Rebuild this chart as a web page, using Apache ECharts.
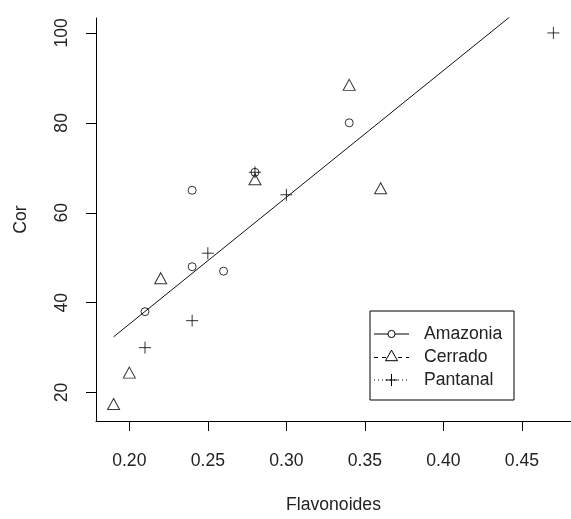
<!DOCTYPE html>
<html>
<head>
<meta charset="utf-8">
<script src="https://cdn.jsdelivr.net/npm/echarts@6/dist/echarts.min.js"></script>
<style>
  html, body { margin: 0; padding: 0; background: #fff; }
  #chart { width: 571px; height: 519px; }
</style>
</head>
<body>
<div id="chart"></div>
<script>
// values
const amazoniaX = [0.24, 0.34, 0.24, 0.26, 0.21, 0.28];
const amazoniaY = [65, 80, 48, 47, 38, 69];
const cerradoX = [0.34, 0.36, 0.22, 0.20, 0.19, 0.28];
const cerradoY = [88, 65, 45, 24, 17, 67];
const pantanalX = [0.47, 0.25, 0.24, 0.21, 0.30, 0.28];
const pantanalY = [100, 51, 36, 30, 64, 69];
// fitted line (lm) end points
const fitX = [0.19, 0.47];
const fitY = [32.4, 111.4];
const xTicks = [0.20, 0.25, 0.30, 0.35, 0.40, 0.45];
const yTicks = [20, 40, 60, 80, 100];
const groups = ["Amazonia", "Cerrado", "Pantanal"];

const FONT = "Liberation Sans";
const FS = 17.6;
const TXT = "#222";
const PLUS = "path://M0,6H12M6,0V12";

const zip = (xs, ys) => xs.map((x, i) => [x, ys[i]]);

const hollow = { color: "transparent", borderColor: "#000", borderWidth: 1 };

const chart = echarts.init(document.getElementById("chart"), null, { renderer: "canvas" });

// legend drawn by hand, R style (box, line type, symbol)
const legendRows = [334, 357.5, 380];
const legendDash = [null, [4, 4], [1, 3]];
const legendGraphic = [
  {
    type: "rect",
    shape: { x: 370, y: 311, width: 144, height: 89 },
    style: { fill: "#fff", stroke: "#000", lineWidth: 1 },
    z: 100
  }
];
groups.forEach((name, i) => {
  const y = legendRows[i];
  legendGraphic.push({
    type: "line",
    shape: { x1: 374, y1: y, x2: 409, y2: y },
    style: { stroke: "#000", lineWidth: 1, lineDash: legendDash[i] },
    z: 101
  });
  let sym;
  if (i === 0) {
    sym = { type: "circle", shape: { cx: 391.5, cy: y, r: 3.6 }, style: { fill: "#fff", stroke: "#000", lineWidth: 1 } };
  } else if (i === 1) {
    sym = { type: "polygon", shape: { points: [[385.5, y + 3.2], [397.5, y + 3.2], [391.5, y - 7.3]] }, style: { fill: "#fff", stroke: "#000", lineWidth: 1 } };
  } else {
    sym = { type: "polyline", shape: { points: [[385.5, y], [397.5, y]] }, style: { stroke: "#000", lineWidth: 1 } };
    legendGraphic.push({ type: "line", shape: { x1: 391.5, y1: y - 6, x2: 391.5, y2: y + 6 }, style: { stroke: "#000", lineWidth: 1 }, z: 102 });
  }
  sym.z = 102;
  legendGraphic.push(sym);
  legendGraphic.push({
    type: "text",
    x: 424, y: y,
    style: { text: name, fill: TXT, font: FS + "px " + FONT, verticalAlign: "middle" },
    z: 102
  });
});

const option = {
  backgroundColor: "#fff",
  animation: false,
  textStyle: { fontFamily: FONT },
  grid: { left: 96, top: 18, width: 484, height: 416 },
  xAxis: {
    type: "value",
    min: 0.1788,
    max: 0.4812,
    name: "Flavonoides",
    nameLocation: "middle",
    nameGap: 75,
    nameTextStyle: { fontSize: FS, color: TXT, fontFamily: FONT },
    splitLine: { show: false },
    axisLine: { show: true, onZero: false, lineStyle: { color: "#000", width: 1 } },
    axisTick: { show: true, inside: false, length: 10, customValues: xTicks, lineStyle: { color: "#000" } },
    axisLabel: {
      customValues: xTicks,
      margin: 31,
      fontSize: FS,
      color: TXT,
      fontFamily: FONT,
      formatter: (v) => v.toFixed(2)
    }
  },
  yAxis: {
    type: "value",
    min: 13.68,
    max: 103.32,
    name: "Cor",
    nameLocation: "middle",
    nameGap: 66,
    nameRotate: 90,
    nameTextStyle: { fontSize: FS, color: TXT, fontFamily: FONT },
    splitLine: { show: false },
    axisLine: { show: true, onZero: false, lineStyle: { color: "#000", width: 1 } },
    axisTick: { show: true, inside: false, length: 10, customValues: yTicks, lineStyle: { color: "#000" } },
    axisLabel: {
      customValues: yTicks,
      rotate: 90,
      margin: 25,
      fontSize: FS,
      color: TXT,
      fontFamily: FONT
    }
  },
  series: [
    {
      name: "fit",
      type: "line",
      data: zip(fitX, fitY),
      showSymbol: false,
      clip: true,
      lineStyle: { color: "#111", width: 1 },
      z: 1
    },
    {
      name: groups[0],
      type: "scatter",
      data: zip(amazoniaX, amazoniaY),
      symbol: "circle",
      symbolSize: 8,
      itemStyle: hollow,
      z: 3
    },
    {
      name: groups[1],
      type: "scatter",
      data: zip(cerradoX, cerradoY),
      symbol: "triangle",
      symbolSize: [12, 11],
      symbolOffset: [0, -2],
      itemStyle: hollow,
      z: 3
    },
    {
      name: groups[2],
      type: "scatter",
      data: zip(pantanalX, pantanalY),
      symbol: PLUS,
      symbolSize: 12,
      itemStyle: hollow,
      z: 3
    }
  ],
  graphic: legendGraphic
};

chart.setOption(option);
</script>
</body>
</html>
